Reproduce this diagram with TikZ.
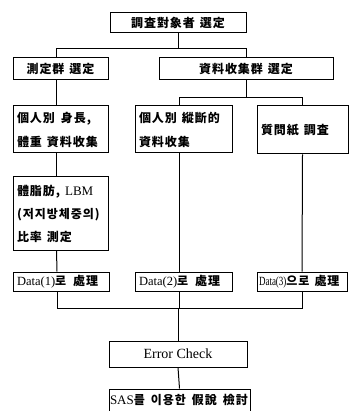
\documentclass[tikz,border=0pt]{standalone}
\usepackage{fontspec}
\usepackage{graphicx}
\setmainfont{Liberation Serif}
\newfontfamily\kr{Noto Sans CJK KR}[LetterSpace=8]
\begin{document}
\begin{tikzpicture}[x=1pt,y=-1pt,
  bx/.style={draw, line width=1pt, rectangle, inner ysep=0pt},
  lbx/.style={bx, inner xsep=4pt, align=left},
  ln/.style={line width=1pt},
  kt/.style={font=\kr\bfseries\fontsize{12}{24}\selectfont},
  kt3/.style={font=\kr\bfseries\fontsize{12}{23}\selectfont}]
\useasboundingbox (0,0) rectangle (349,411);

\node[bx, kt, minimum width=136pt, minimum height=20pt] (top) at (178,23) {調査對象者\hspace{5pt}選定};
\node[bx, kt, minimum width=95pt, minimum height=22pt] (g1) at (60.5,69) {測定群\hspace{5pt}選定};
\node[bx, kt, minimum width=174pt, minimum height=22pt] (g2) at (246,69) {資料收集群\hspace{5pt}選定};

\node[lbx, kt, text width=87pt, minimum height=47pt] (a1) at (60.5,129.5) {個人別\hspace{6pt}身長,\\體重\hspace{5pt}資料收集};
\node[lbx, kt3, text width=87pt, minimum height=73pt] (a2) at (60.5,213.5) {體脂肪,\hspace{5pt}{\rmfamily\mdseries\fontsize{13}{23}\selectfont LBM}\\(저지방체중의)\\比率\hspace{5pt}測定};
\node[lbx, kt, text width=89pt, minimum height=47pt] (b1) at (183.5,129.5) {個人別\hspace{5pt}縱斷的\\資料收集};
\node[lbx, kt, text width=83pt, minimum height=48pt] (c1) at (302.5,130) {質問紙\hspace{5pt}調査};

\node[lbx, kt, text width=88pt, minimum height=19pt] (d1) at (61,281.5) {{\rmfamily\mdseries\fontsize{12.5}{14}\selectfont Data(1)}로\hspace{7pt}處理};
\node[lbx, kt, text width=89pt, minimum height=19pt] (d2) at (183.5,281.5) {{\rmfamily\mdseries\fontsize{12.5}{14}\selectfont Data(2)}로\hspace{7pt}處理};
\node[bx, kt, inner xsep=2pt, text width=86pt, align=left, minimum height=19pt] (d3) at (302,281.5) {\scalebox{0.72}[1]{\rmfamily\mdseries\fontsize{12.5}{14}\selectfont Data(3)}으로\hspace{5pt}處理};

\node[bx, font=\fontsize{14}{16}\selectfont, minimum width=138pt, minimum height=26pt] (err) at (178,354) {Error Check};
\node[bx, kt, inner xsep=1pt, text width=139pt, align=left, minimum height=22pt] (sas) at (179.5,400) {{\rmfamily\mdseries\fontsize{13}{14}\selectfont SAS}를\hspace{6pt}이용한\hspace{6pt}假說\hspace{6pt}檢討};

\coordinate (j1) at (178,49);
\coordinate (j2) at (246,98);
\coordinate (j3) at (178,308);

\draw[ln] (top.south) -- (j1);
\draw[ln] ([xshift=-4pt]g1.north) -- ++(0,-9) -| (g2.north);
\draw[ln] (g2.south) -- (j2);
\draw[ln] ([xshift=-4pt]b1.north) -- ++(0,-8) -| (c1.north);
\draw[ln] ([xshift=-4pt]g1.south) -- ([xshift=-4pt]a1.north);
\draw[ln] ([xshift=-4pt]a1.south) -- ([xshift=-4pt]a2.north);
\draw[ln] ([xshift=-4pt]a2.south) -- ([xshift=-4pt]d1.north);
\draw[ln] ([xshift=-4pt]b1.south) -- ([xshift=-4pt]d2.north);
\draw[ln] (c1.south) -- (d3.north);
\draw[ln] ([xshift=-4pt]d1.south) -- ++(0,17) -| (d3.south);
\draw[ln] ([xshift=-4pt]d2.south) -- ++(0,17);
\draw[ln] (j3) -- (err.north);
\draw[ln] (err.south) -- (sas.north);
\end{tikzpicture}
\end{document}
